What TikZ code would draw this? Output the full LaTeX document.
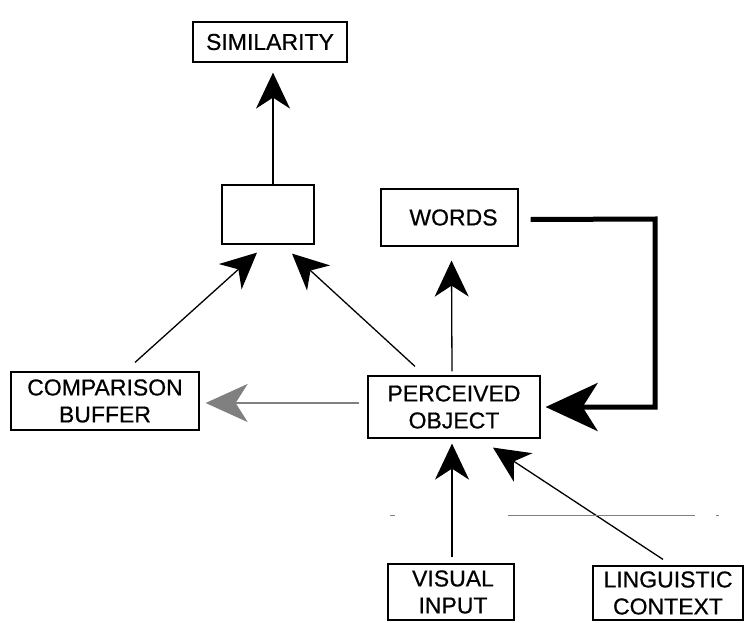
\documentclass[tikz,border=0pt]{standalone}
\usepackage{fontspec}
\setmainfont{Liberation Sans}[FakeBold=0.6]
\usetikzlibrary{arrows.meta}

\begin{document}
\begin{tikzpicture}[x=1pt, y=-1pt,
    blk/.style={draw, line width=1.2pt, fill=white, inner sep=0pt, align=center,
        font=\fontsize{23}{27}\selectfont},
    arr/.style={line width=1.3pt, -{Stealth[length=36pt, width=34pt, inset=11pt]}},
    fat/.style={line width=5pt, -{Stealth[length=52pt, width=48pt, inset=15pt]}},
    grey/.style={draw=black!50, line width=2pt,
        -{Stealth[length=42pt, width=38pt, inset=12pt, fill=black!50]}}]
    \useasboundingbox (0,0) rectangle (746,623);

    % Draw nodes
    \node[blk, minimum width=154pt, minimum height=40pt] (sim) at (270,42) {SIMILARITY};
    \node[blk, minimum width=92pt, minimum height=59pt] (hid) at (268,214.5) {};
    \node[blk, minimum width=137pt, minimum height=57pt] (words) at (449.5,217.5) {\hspace*{8pt}WORDS};
    \node[blk, minimum width=188pt, minimum height=58pt] (comp) at (105,401) {COMPARISON\\BUFFER};
    \node[blk, minimum width=172pt, minimum height=62pt] (perc) at (454,407) {PERCEIVED\\OBJECT};
    \node[blk, minimum width=126pt, minimum height=56pt] (vis) at (451,592) {\hspace*{4pt}VISUAL\\\hspace*{4pt}INPUT};
    \node[blk, minimum width=150pt, minimum height=54pt] (ling) at (668,593) {LINGUISTIC\\CONTEXT};
    \coordinate (bend) at (655,219);

    % Draw connections
    \draw[arr] ([xshift=5pt]hid.north) -- ([shift={(3,10)}]sim.south);
    \draw[arr] ([shift={(30,-9)}]comp.north) -- ([shift={(-11,8)}]hid.south);
    \draw[arr] ([shift={(-39,-9)}]perc.north) -- ([shift={(24,9)}]hid.south);
    \draw[arr] ([shift={(-2,-4)}]perc.north) -- ([shift={(2,14)}]words.south);
    \draw[fat] ([shift={(12,2)}]words.east) -- (bend) |- ([xshift=5pt]perc.east);
    \draw[grey] ([shift={(-8,-4)}]perc.west) -- ([shift={(6,-4)}]comp.east |- perc.west);
    \draw[arr] ([shift={(1,-6)}]vis.north) -- ([shift={(-2,5)}]perc.south);
    \draw[arr] ([shift={(-5,-6)}]ling.north) -- ([shift={(39,9)}]perc.south);

    % Stray marks
    \draw[line width=0.8pt, gray] (390,515) -- (395,515);
    \draw[line width=0.8pt, gray] (508,515) -- (695,515);
    \draw[line width=0.8pt, gray] (716,515) -- (719,515);
\end{tikzpicture}
\end{document}
